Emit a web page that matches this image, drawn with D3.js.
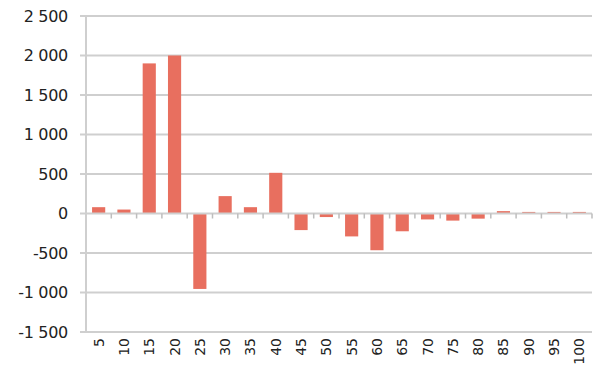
<!DOCTYPE html>
<html>
<head>
<meta charset="utf-8">
<script src="https://cdn.jsdelivr.net/npm/d3@7"></script>
<style>
  html, body { margin: 0; padding: 0; background: #fff; }
  svg { display: block; }
  text { font-family: "DejaVu Sans", Verdana, sans-serif; fill: #222; }
</style>
</head>
<body>
<svg id="chart" width="596" height="367"></svg>
<script>
// Categories along the x axis
const categories = ["5","10","15","20","25","30","35","40","45","50",
                    "55","60","65","70","75","80","85","90","95","100"];
// Bar values for each category
const values = [80, 50, 1900, 2000, -955, 220, 80, 515, -210, -45,
                -290, -465, -225, -75, -90, -65, 30, 20, 20, 20];
// Y axis ticks
const yTicks = [-1500, -1000, -500, 0, 500, 1000, 1500, 2000, 2500];

const svg = d3.select("#chart");
const plot = { left: 86, right: 592, top: 16, bottom: 332 };

const x = d3.scaleBand().domain(categories).range([plot.left, plot.right]).paddingInner(0.48).paddingOuter(0.24);
const xEdges = d3.scaleLinear().domain([0, categories.length]).range([plot.left, plot.right]);
const y = d3.scaleLinear().domain([-1500, 2500]).range([plot.bottom, plot.top]);

// thousands separated by a space, minus as hyphen
const fmt = v => {
  const s = Math.abs(v).toString().replace(/\B(?=(\d{3})+(?!\d))/g, " ");
  return (v < 0 ? "-" : "") + s;
};

const gridColor = "#cfcfcf";

// horizontal gridlines (extend left as tick marks)
svg.append("g").selectAll("line").data(yTicks.filter(d => d !== 0)).join("line")
  .attr("x1", plot.left - 6).attr("x2", plot.right)
  .attr("y1", d => y(d)).attr("y2", d => y(d))
  .attr("stroke", gridColor).attr("stroke-width", 2);

// left axis line
svg.append("line")
  .attr("x1", plot.left).attr("x2", plot.left).attr("y1", plot.top).attr("y2", plot.bottom)
  .attr("stroke", gridColor).attr("stroke-width", 2);

// y tick labels
svg.append("g").selectAll("text").data(yTicks).join("text")
  .attr("x", 68).attr("y", d => y(d)).attr("dy", "0.36em")
  .attr("text-anchor", "end").style("font-size", "16px")
  .style("letter-spacing", "-0.3px")
  .text(fmt);

// bars
svg.append("g").selectAll("rect").data(values).join("rect")
  .attr("x", (d, i) => x(categories[i]))
  .attr("width", x.bandwidth())
  .attr("y", d => y(Math.max(0, d)))
  .attr("height", d => Math.abs(y(d) - y(0)))
  .attr("fill", "#e86f5f");

// zero line with category tick marks
svg.append("line")
  .attr("x1", plot.left - 6).attr("x2", plot.right)
  .attr("y1", y(0)).attr("y2", y(0))
  .attr("stroke", gridColor).attr("stroke-width", 2);
svg.append("g").selectAll("line").data(d3.range(1, categories.length + 1)).join("line")
  .attr("x1", d => xEdges(d)).attr("x2", d => xEdges(d))
  .attr("y1", y(0)).attr("y2", y(0) + 5)
  .attr("stroke", "#bdbdbd").attr("stroke-width", 1.5);

// rotated x labels
svg.append("g").selectAll("text").data(categories).join("text")
  .attr("transform", d => `translate(${x(d) + x.bandwidth() / 2 + 5},${plot.bottom + 6}) rotate(-90)`)
  .attr("text-anchor", "end")
  .style("font-size", "14px")
  .text(d => d);
</script>
</body>
</html>
